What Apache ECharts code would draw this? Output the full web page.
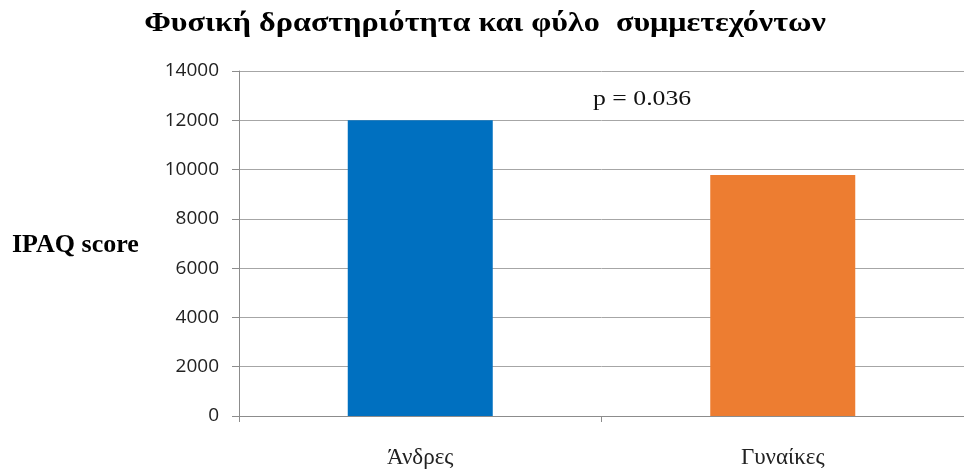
<!DOCTYPE html>
<html>
<head>
<meta charset="utf-8">
<script src="https://cdn.jsdelivr.net/npm/echarts@6/dist/echarts.min.js"></script>
<style>
  html, body { margin: 0; padding: 0; background: #fff; }
  #chart { width: 964px; height: 473px; }
</style>
</head>
<body>
<div id="chart"></div>
<script>
// IPAQ physical activity score by participant sex
const categories = ['Άνδρες', 'Γυναίκες'];
const scores = [12000, 9780];
const barColors = ['#0070C0', '#ED7D31'];
const yMin = 0, yMax = 14000, yStep = 2000;
const titleText = 'Φυσική δραστηριότητα και φύλο  συμμετεχόντων';
const yAxisTitle = 'IPAQ score';
const pValueText = 'p = 0.036';

const chart = echarts.init(document.getElementById('chart'), null, { renderer: 'canvas' });

chart.setOption({
  animation: false,
  backgroundColor: '#ffffff',
  grid: { left: 239, top: 71, right: -6, bottom: 57, containLabel: false },
  xAxis: {
    type: 'category',
    data: categories,
    axisLine: { lineStyle: { color: '#8c8c8c', width: 1 } },
    axisTick: { show: true, length: 6, lineStyle: { color: '#8c8c8c' } },
    axisLabel: {
      margin: 30,
      fontFamily: 'Liberation Serif',
      fontSize: 23,
      color: '#222222'
    }
  },
  yAxis: {
    type: 'value',
    min: yMin,
    max: yMax,
    interval: yStep,
    axisLine: { show: true, lineStyle: { color: '#8c8c8c', width: 1 } },
    axisTick: { show: true, length: 7, lineStyle: { color: '#8c8c8c' } },
    splitLine: { lineStyle: { color: '#a6a6a6', width: 1 } },
    axisLabel: {
      margin: 20,
      fontFamily: 'Open Sans',
      fontSize: 19,
      color: '#222222',
      formatter: v => String(v)
    }
  },
  series: [{
    type: 'bar',
    data: scores.map((v, i) => ({ value: v, itemStyle: { color: barColors[i] } })),
    barCategoryGap: '60%'
  }],
  graphic: [
    {
      // chart title, widened to the original's proportions
      type: 'text',
      x: 485,
      y: 24,
      scaleX: 1.19,
      style: {
        text: titleText,
        align: 'center',
        verticalAlign: 'middle',
        fontFamily: 'Liberation Serif',
        fontWeight: 'bold',
        fontSize: 27,
        fill: '#000000'
      }
    },
    {
      type: 'text',
      x: 12,
      y: 245,
      style: {
        text: yAxisTitle,
        align: 'left',
        verticalAlign: 'middle',
        fontFamily: 'Liberation Serif',
        fontWeight: 'bold',
        fontSize: 26,
        fill: '#000000'
      }
    },
    {
      type: 'text',
      x: 593,
      y: 99,
      scaleX: 1.17,
      style: {
        text: pValueText,
        align: 'left',
        verticalAlign: 'middle',
        fontFamily: 'Liberation Serif',
        fontSize: 22,
        fill: '#111111'
      }
    }
  ]
});
</script>
</body>
</html>
